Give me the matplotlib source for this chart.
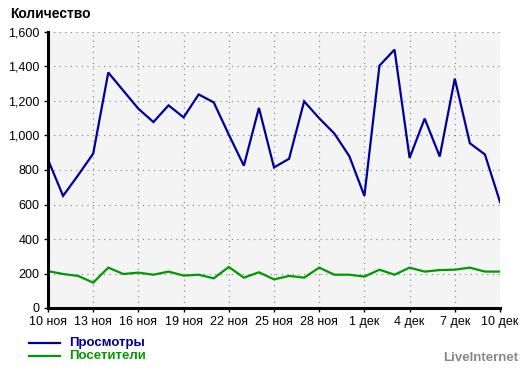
import numpy as np
import matplotlib.pyplot as plt
from matplotlib.ticker import FuncFormatter

# daily stats, 10 Nov .. 10 Dec
days = np.arange(31)
views = [860, 650, 770, 895, 1365, 1260, 1155, 1078, 1175, 1105,
         1238, 1192, 1005, 825, 1160, 815, 865, 1198, 1100, 1012,
         880, 650, 1405, 1498, 870, 1098, 878, 1330, 955, 890, 615]
visitors = [214, 197, 186, 147, 234, 197, 205, 193, 211, 188,
            193, 172, 238, 176, 207, 166, 186, 176, 234, 193,
            193, 182, 222, 193, 234, 211, 220, 222, 234, 211, 211]
tick_labels = ["10 ноя", "13 ноя", "16 ноя", "19 ноя", "22 ноя", "25 ноя",
               "28 ноя", "1 дек", "4 дек", "7 дек", "10 дек"]

blue = "#000099"
green = "#009900"

plt.rcParams['font.family'] = ['Liberation Sans', 'DejaVu Sans']
fig = plt.figure(figsize=(5.23, 3.76), dpi=100)
ax = fig.add_axes([48/523, 1 - 308/376, 452/523, 276/376])
ax.set_facecolor("#f4f4f4")

ax.plot(days, views, color=blue, lw=1.6, solid_joinstyle='miter')
ax.plot(days, visitors, color=green, lw=1.6, solid_joinstyle='miter')

ax.set_xlim(0, 30)
ax.set_ylim(0, 1600)
ax.set_xticks(days[::3])
ax.set_xticklabels(tick_labels)
ax.set_yticks(np.arange(0, 1601, 200))
ax.yaxis.set_major_formatter(FuncFormatter(lambda v, p: f"{int(v):,}"))
ax.tick_params(labelsize=9, length=3, width=1, pad=3, colors="black")

ax.grid(True, color="#808080", linestyle=(0, (1, 4)), lw=0.8)
for s in ("top", "right"):
    ax.spines[s].set_visible(False)
for s in ("left", "bottom"):
    ax.spines[s].set_linewidth(2.2)
ax.spines["left"].set_zorder(3)

fig.text(10/523, 1 - 14/376, "Количество", fontsize=10, fontweight="bold", va="center")

# legend
fig.add_artist(plt.Line2D([29/523, 60/523], [1 - 343/376] * 2, color=blue, lw=1.6))
fig.add_artist(plt.Line2D([29/523, 60/523], [1 - 356/376] * 2, color=green, lw=1.6))
fig.text(69/523, 1 - 343/376, "Просмотры", color=blue, fontsize=9.5, fontweight="bold", va="center")
fig.text(69/523, 1 - 356/376, "Посетители", color=green, fontsize=9.5, fontweight="bold", va="center")
fig.text(518/523, 1 - 358/376, "LiveInternet", color="#888888", fontsize=9.5, fontweight="bold",
         va="center", ha="right")

fig.savefig("out.png", dpi=100)
